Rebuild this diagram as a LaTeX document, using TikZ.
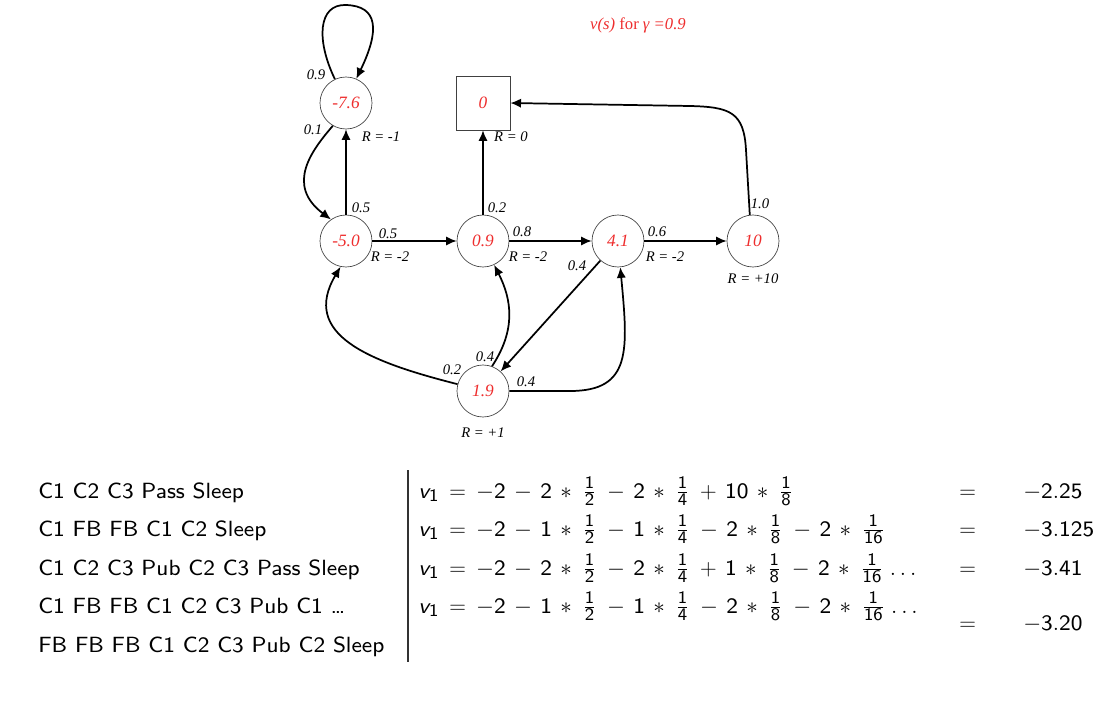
\documentclass[tikz,border=0pt]{standalone}
\usepackage{fontspec}
\setsansfont{lmsans8-regular.otf}[ItalicFont=lmsans8-oblique.otf]
\newfontfamily\tmsfont{Liberation Serif}
\usepackage{tikz}
\usetikzlibrary{arrows.meta, positioning}
\DeclareMathSizes{16.5}{16.5}{13.2}{10}
\definecolor{valred}{RGB}{238,45,45}
\tikzset{ x=0.75pt, y=0.75pt, >={Latex[length=8pt, width=7pt]},
  state/.style={circle, draw=black!75, line width=0.5pt, minimum size=39pt, inner sep=0pt, text=valred, font=\tmsfont\itshape\fontsize{13}{15}\selectfont},
  term/.style={state, rectangle, minimum size=40.5pt},
  lbl/.style={font=\tmsfont\itshape\fontsize{11}{13}\selectfont, inner sep=0pt},
  tr/.style={->, line width=1.3pt},
  row/.style={anchor=base west, font=\sffamily\fontsize{16.5}{20}\selectfont, inner sep=0pt,
    execute at begin node={\medmuskip=6.5mu \thickmuskip=8mu \nulldelimiterspace=3.5pt}}
}
\newcommand{\vone}{\textsf{\itshape v}_{\mathsf{1}}}

\begin{document}
\begin{tikzpicture}
\useasboundingbox (0,0) rectangle (1111,-709);
% states, values for gamma = 0.9
\node[state] (fb) at (346,-103) {-7.6};
\node[term] (sleep) at (483,-103) {0};
\node[state] (c1) at (346,-241) {-5.0};
\node[state] (c2) at (483,-241) {0.9};
\node[state] (c3) at (618,-241) {4.1};
\node[state] (pass) at (753,-241) {10};
\node[state] (pub) at (483,-391) {1.9};
\node[lbl, text=valred, font=\tmsfont\itshape\fontsize{12.5}{14}\selectfont] (title) at (638,-25) {v(s) \textup{for} γ =0.9};
% rewards
\node[lbl] at (381,-137) {R = -1};
\node[lbl] at (511,-137) {R = 0};
\node[lbl] at (390,-257) {R = -2};
\node[lbl] at (528,-257) {R = -2};
\node[lbl] at (665,-257) {R = -2};
\node[lbl] at (753,-279) {R = +10};
\node[lbl] at (483,-433) {R = +1};
% transitions
\draw[tr] (fb.115) .. controls (316,-40) and (318,-4) .. (346,-5)
      .. controls (378,-6) and (380,-30) .. (fb.67) node[lbl] at (316,-75) {0.9};
\draw[tr] (fb.240) .. controls (312,-150) and (285,-185) .. (c1.125) node[lbl] at (313,-130) {0.1};
\draw[tr] (c1) -- (fb) node[lbl] at (361,-208) {0.5};
\draw[tr] (c1) -- (c2) node[lbl] at (388,-234) {0.5};
\draw[tr] (c2) -- (sleep) node[lbl] at (497,-208) {0.2};
\draw[tr] (c2) -- (c3) node[lbl] at (522,-232) {0.8};
\draw[tr] (c3) -- (pass) node[lbl] at (657,-232) {0.6};
\draw[tr] (pass.97) -- (746,-150) .. controls (744,-112) and (730,-107) .. (690,-106) -- (sleep.east)
      node[lbl] at (760,-204) {1.0};
\draw[tr] (c3) -- (pub) node[lbl] at (577,-266) {0.4};
\draw[tr] (pub.165) .. controls (370,-362) and (300,-335) .. (c1.258) node[lbl] at (452,-370) {0.2};
\draw[tr] (pub.70) .. controls (516,-330) and (512,-300) .. (c2.295) node[lbl] at (485,-357) {0.4};
\draw[tr] (pub.east) -- (570,-391) .. controls (632,-391) and (628,-350) .. (c3.275) node[lbl] at (526,-382) {0.4};
% sample returns
\draw[line width=1pt, black!80] (408,-470) coordinate (top) -- (408,-662) coordinate (bot);
\node[row] (s1) at (38,-498) {C1 C2 C3 Pass Sleep};
\node[row] (s2) at (38,-536) {C1 FB FB C1 C2 Sleep};
\node[row] (s3) at (38,-575) {C1 C2 C3 Pub C2 C3 Pass Sleep};
\node[row] (s4) at (38,-613) {C1 FB FB C1 C2 C3 Pub C1 \ldots};
\node[row] (s5) at (38,-652) {FB FB FB C1 C2 C3 Pub C2 Sleep};
\node[row] (e1) at (418,-498) {$\mathsf{\vone = -2 - 2\ast\frac12 - 2\ast\frac14 + 10\ast\frac18}$};
\node[row] (e2) at (418,-536) {$\mathsf{\vone = -2 - 1\ast\frac12 - 1\ast\frac14 - 2\ast\frac18 - 2\ast\frac1{16}}$};
\node[row] (e3) at (418,-575) {$\mathsf{\vone = -2 - 2\ast\frac12 - 2\ast\frac14 + 1\ast\frac18 - 2\ast\frac1{16}\ldots}$};
\node[row] (e4) at (418,-613) {$\mathsf{\vone = -2 - 1\ast\frac12 - 1\ast\frac14 - 2\ast\frac18 - 2\ast\frac1{16}\ldots}$};
\node[row] (q1) at (959,-498) {$=$};
\node[row] (q2) at (959,-536) {$=$};
\node[row] (q3) at (959,-575) {$=$};
\node[row] (q4) at (959,-630) {$=$};
\node[row] (r1) at (1023,-498) {$\mathsf{-2.25}$};
\node[row] (r2) at (1023,-536) {$\mathsf{-3.125}$};
\node[row] (r3) at (1023,-575) {$\mathsf{-3.41}$};
\node[row] (r4) at (1023,-630) {$\mathsf{-3.20}$};
\end{tikzpicture}
\end{document}
